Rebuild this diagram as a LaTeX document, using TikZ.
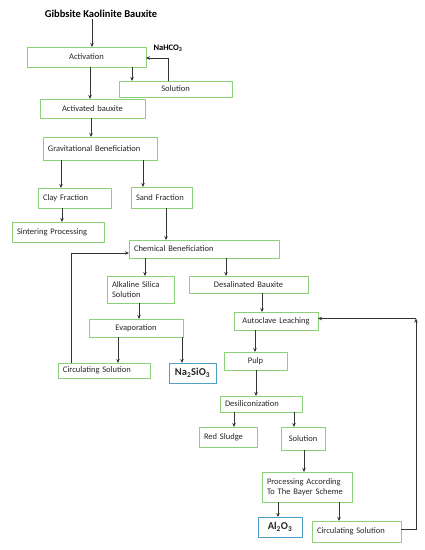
\documentclass[tikz,border=0pt]{standalone}
\usepackage{fontspec}
\setmainfont{Carlito}
\usetikzlibrary{arrows.meta}
\definecolor{boxgreen}{RGB}{140,208,120}
\definecolor{boxblue}{RGB}{80,160,200}
\tikzset{
  box/.style={draw=boxgreen, line width=0.9pt, anchor=north west, inner xsep=5pt, inner ysep=1pt, outer sep=0pt,
    font=\fontsize{8.5}{10.5}\selectfont, text=black!85},
  lbox/.style={box, align=left},
  cbox/.style={box, align=center},
  prodbox/.style={box, draw=boxblue, align=center, font=\fontsize{10.5}{12}\selectfont\bfseries},
  arr/.style={draw=black!80, line width=0.7pt, -{Stealth[length=4pt,width=3.5pt]}},
}
\begin{document}
\begin{tikzpicture}[x=1pt,y=-1pt]
\useasboundingbox (0,0) rectangle (424,550);
% title
\node[font=\fontsize{10.5}{12}\selectfont\bfseries, inner sep=1pt] (title) at (101,14) {Gibbsite Kaolinite Bauxite};
% nodes
\node[cbox, text width=109pt, minimum height=20pt] (act) at (27,47) {Activation};
\node[font=\fontsize{8.5}{10}\selectfont\bfseries, inner sep=0pt] (nahco) at (168,48) {NaHCO\textsubscript{3}};
\node[cbox, text width=103pt, minimum height=16pt] (sol1) at (119,81) {Solution};
\node[cbox, text width=95pt, minimum height=19pt] (actb) at (40,99) {Activated bauxite};
\node[lbox, text width=104pt, minimum height=23pt] (grav) at (43,137) {Gravitational Beneficiation};
\node[lbox, text width=63pt, minimum height=20pt] (clay) at (38,188) {Clay Fraction};
\node[lbox, text width=82pt, minimum height=20pt] (sint) at (12,222) {Sintering Processing};
\node[lbox, text width=51pt, minimum height=21pt] (sand) at (131,187) {Sand Fraction};
\node[lbox, text width=140pt, minimum height=18pt] (chem) at (129,240) {Chemical Beneficiation};
\node[lbox, text width=57pt, minimum height=27pt] (alk) at (107,276) {Alkaline Silica\\Solution};
\node[cbox, text width=109pt, minimum height=17pt] (desal) at (189,276) {Desalinated Bauxite};
\node[cbox, text width=84pt, minimum height=18pt] (evap) at (89,319) {Evaporation};
\node[lbox, text width=82pt, minimum height=15pt] (circ1) at (58,363) {Circulating Solution};
\node[prodbox, text width=37pt, minimum height=20pt] (na) at (169,363) {Na\textsubscript{2}SiO\textsubscript{3}};
\node[cbox, text width=74pt, minimum height=18pt] (auto) at (234,312) {Autoclave Leaching};
\node[cbox, text width=53pt, minimum height=18pt] (pulp) at (224,352) {Pulp};
\node[lbox, text width=72pt, minimum height=16pt] (desil) at (220,396) {Desiliconization};
\node[lbox, text width=48pt, minimum height=20pt] (red) at (199,427) {Red Sludge};
\node[cbox, text width=34pt, minimum height=23pt] (sol2) at (281,427) {Solution};
\node[lbox, text width=80pt, minimum height=30pt] (proc) at (262,472) {Processing According\\To The Bayer Scheme};
\node[prodbox, text width=34pt, minimum height=20pt] (al) at (258,517) {Al\textsubscript{2}O\textsubscript{3}};
\node[lbox, text width=79pt, minimum height=21pt] (circ2) at (312,521) {Circulating Solution};
\coordinate (fbtop) at (416,318.5);
% connectors
\draw[arr] ([xshift=65pt]act.north west |- title.south) -- ([xshift=65pt]act.north west);
\draw[arr] ([xshift=105pt]act.south west) -- ([xshift=105pt]act.south west |- sol1.north);
\draw[arr] ([xshift=49pt]sol1.north west) |- ([yshift=-1pt]act.east);
\draw[arr] ([xshift=63pt]act.south west) -- ([xshift=63pt]act.south west |- actb.north);
\draw[arr] ([xshift=51pt]actb.south west) -- ([xshift=51pt]actb.south west |- grav.north);
\draw[arr] ([xshift=18pt]grav.south west) -- ([xshift=18pt]grav.south west |- clay.north);
\draw[arr] ([xshift=100pt]grav.south west) -- ([xshift=100pt]grav.south west |- sand.north);
\draw[arr] ([xshift=24pt]clay.south west) -- ([xshift=24pt]clay.south west |- sint.north);
\draw[arr] ([xshift=35pt]sand.south west) -- ([xshift=35pt]sand.south west |- chem.north);
\draw[arr] ([xshift=16pt]chem.south west) -- ([xshift=16pt]chem.south west |- alk.north);
\draw[arr] ([xshift=97pt]chem.south west) -- ([xshift=97pt]chem.south west |- desal.north);
\draw[arr] ([xshift=32pt]alk.south west) -- ([xshift=32pt]alk.south west |- evap.north);
\draw[arr] ([xshift=29pt]evap.south west) -- ([xshift=29pt]evap.south west |- circ1.north);
\draw[arr] ([xshift=93pt]evap.south west) -- ([xshift=93pt]evap.south west |- na.north);
\draw[arr] ([xshift=13pt]circ1.north west) |- ([yshift=-4pt]chem.west);
\draw[arr] ([xshift=73pt]desal.south west) -- ([xshift=73pt]desal.south west |- auto.north);
\draw[arr] ([xshift=21pt]auto.south west) -- ([xshift=21pt]auto.south west |- pulp.north);
\draw[arr] ([xshift=32pt]pulp.south west) -- ([xshift=32pt]pulp.south west |- desil.north);
\draw[arr] ([xshift=14pt]desil.south west) -- ([xshift=14pt]desil.south west |- red.north);
\draw[arr] ([xshift=74pt]desil.south west) -- ([xshift=74pt]desil.south west |- sol2.north);
\draw[arr] ([xshift=23pt]sol2.south west) -- ([xshift=23pt]sol2.south west |- proc.north);
\draw[arr] ([xshift=16pt]proc.south west) -- ([xshift=16pt]proc.south west |- al.north);
\draw[arr] ([xshift=77pt]proc.south west) -- ([xshift=77pt]proc.south west |- circ2.north);
\draw[arr] ([yshift=2pt]circ2.east) -| (fbtop);
\draw[arr] (fbtop) -- (fbtop -| auto.east);
\end{tikzpicture}
\end{document}
